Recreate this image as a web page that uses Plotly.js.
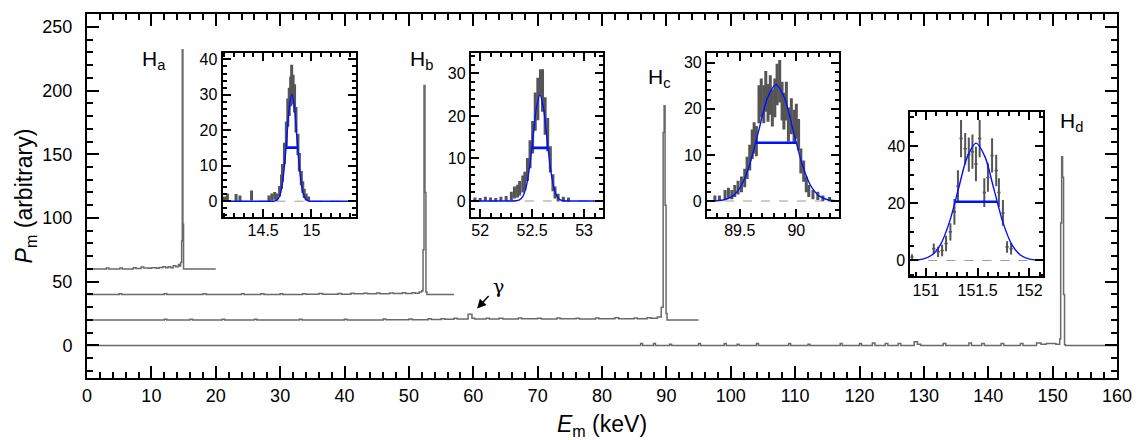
<!DOCTYPE html>
<html>
<head>
<meta charset="utf-8">
<script src="https://cdn.plot.ly/plotly-3.0.1.min.js"></script>
<style>
  html, body { margin: 0; padding: 0; background: #fff; }
  #chart { width: 1136px; height: 440px; }
</style>
</head>
<body>
<div id="chart"></div>
<script>
// main spectra (step histograms, offset baselines)
const haX = [0, 3.0, 3.4, 5.1, 5.5, 7.2, 7.6, 8.4, 8.8, 9.6, 10.0, 10.8, 11.2, 11.8, 12.2, 12.6, 13.0, 13.4, 13.8, 14.2, 14.4, 14.55, 14.7, 14.8, 14.9, 15.0, 20.0];
const haY = [60, 60.8, 60, 60.8, 60, 61, 60.3, 61.5, 60.8, 60.5, 61, 60.5, 61.2, 61.8, 61, 61.8, 61, 62.5, 61.8, 63.5, 62.3, 65, 82, 232, 95, 60, 60];

const hbX = [0, 5, 5.4, 12, 12.4, 18, 18.5, 24, 24.4, 27, 27.5, 30, 30.4, 33.5, 34, 36, 36.6, 39, 39.5, 41, 41.5, 43, 43.6, 45, 45.5, 47, 47.6, 49, 49.5, 50.5, 51, 51.6, 52.0, 52.2, 52.35, 52.5, 52.65, 52.8, 57];
const hbY = [40, 40.5, 40, 40.6, 40, 40.5, 40, 40.6, 40, 40.5, 40, 40.6, 40, 40.5, 40.2, 40.8, 40.2, 40.7, 40.2, 41, 40.5, 41, 40.5, 41.2, 40.6, 41.2, 40.8, 41.3, 40.8, 41.4, 41, 42, 43, 75, 204, 120, 42, 40, 40];

const hcX = [0, 12, 12.4, 16, 16.4, 21, 21.4, 26, 26.4, 33, 33.4, 40, 40.4, 46, 46.4, 50, 50.5, 53, 53.5, 55, 55.6, 57, 57.5, 59.2, 59.8, 60.2, 62, 62.5, 64, 64.6, 67, 67.5, 70, 70.6, 73, 73.5, 76, 76.5, 79, 79.5, 82, 82.6, 85, 85.5, 87, 87.6, 88.6, 89.2, 89.5, 89.65, 89.8, 89.95, 90.1, 95];
const hcY = [20, 20.6, 20, 20.5, 20, 20.6, 20, 20.5, 20, 20.6, 20, 20.6, 20, 20.7, 20.1, 20.8, 20.2, 21, 20.4, 21, 20.6, 21.3, 20.8, 24.5, 21.3, 20.8, 21.3, 20.7, 21.3, 20.7, 21.5, 20.9, 21.3, 20.8, 21.5, 20.9, 21.3, 20.8, 21.5, 21, 21.7, 21, 21.6, 21, 21.8, 21.4, 22.3, 30, 167, 188, 110, 25, 20, 20];

const hdX = [0, 86, 86.3, 88, 88.3, 90.5, 90.8, 95, 95.3, 99, 99.3, 101, 101.3, 104, 104.3, 109, 109.3, 112, 112.3, 117, 117.3, 120, 120.3, 122, 122.4, 124, 124.4, 126, 126.4, 128.5, 129, 129.5, 133, 133.4, 137, 137.4, 139, 139.4, 142, 142.4, 145, 145.4, 147.5, 148.2, 149, 150.5, 151.1, 151.25, 151.4, 151.55, 151.7, 151.85, 152, 160];
const hdY = [0, 1.5, 0, 1.5, 0, 1, 0, 1.5, 0, 1.5, 0, 1, 0, 1.5, 0, 1.5, 0, 1, 0, 1.5, 0, 1.5, 0, 2, 0, 1.5, 0, 1.5, 0, 3, 1, 0, 1.5, 0, 2, 0, 1.5, 0, 1.5, 0, 1.5, 0, 2, 1, 1.5, 1, 5, 96, 148, 132, 40, 0.5, 0, 0];

// inset data: points with errors
const aX = [14.10, 14.13, 14.22, 14.26, 14.38, 14.56, 14.59, 14.62, 14.64, 14.67, 14.69, 14.70, 14.72, 14.74, 14.755, 14.77, 14.785, 14.795, 14.81, 14.825, 14.84, 14.86, 14.875, 14.895, 14.91, 14.925, 14.945, 14.97];
const aY = [0.6, 1.2, 1.0, 0.8, 1.6, 0.8, 1.2, 1.5, 1.2, 2.8, 5.5, 8, 13.5, 19, 25, 28, 31, 34, 31.5, 29, 23, 16, 11, 6.5, 4, 2.2, 1.2, 0.6];
const aErr = [0.7, 1, 1, 0.8, 1.4, 0.8, 1, 1.1, 1, 1.5, 2, 2.5, 3, 3.5, 4, 4, 4.2, 4.5, 4.2, 4, 3.6, 3, 2.6, 2, 1.6, 1.3, 1, 0.7];

const bX = [51.95, 52.0, 52.05, 52.1, 52.15, 52.2, 52.25, 52.3, 52.33, 52.36, 52.38, 52.41, 52.43, 52.455, 52.48, 52.505, 52.53, 52.555, 52.58, 52.6, 52.625, 52.65, 52.675, 52.7, 52.72, 52.75, 52.8, 52.85];
const bY = [0.4, 0.3, 0.5, 0.4, 0.3, 0.5, 0.6, 1.2, 2, 2.3, 3, 4, 4.7, 7.4, 11, 15, 21, 24, 28, 26, 20, 15.6, 9.8, 4.3, 2, 0.8, 0.4, 0.3];
const bErr = [0.4, 0.4, 0.5, 0.4, 0.4, 0.5, 0.6, 1, 1.4, 1.5, 1.7, 2, 2.2, 2.7, 3.3, 3.8, 4.5, 5, 3, 5, 4.4, 3.9, 3.1, 2, 1.4, 0.9, 0.6, 0.5];

const cX = [89.28, 89.32, 89.37, 89.40, 89.43, 89.456, 89.485, 89.515, 89.544, 89.565, 89.588, 89.61, 89.627, 89.647, 89.67, 89.69, 89.712, 89.73, 89.75, 89.77, 89.788, 89.81, 89.83, 89.853, 89.874, 89.89, 89.912, 89.93, 89.956, 89.98, 90.0, 90.02, 90.04, 90.065, 90.088, 90.11, 90.147, 90.19, 90.235, 90.294];
const cY = [0.6, 0.6, 1.4, 1.8, 1.4, 2.2, 2.9, 3.6, 5, 7.2, 9.4, 12.3, 13.7, 13, 21, 22.4, 21, 23.8, 21.3, 23, 20.2, 22.4, 25.3, 26, 21.7, 19.5, 21.7, 16.6, 18.4, 16.2, 17.3, 14.4, 8.7, 6.5, 3.6, 2.2, 1.4, 1.1, 0.6, 0.4];
const cErr = [0.6, 0.6, 1, 1.1, 1, 1.3, 1.5, 1.7, 2, 2.4, 2.8, 3.2, 3.4, 3.3, 4.1, 4.2, 4.1, 4.4, 4.1, 4.3, 4, 4.2, 4.5, 4.6, 4.2, 4, 4.2, 3.7, 3.9, 3.6, 3.8, 3.4, 2.7, 2.3, 1.7, 1.3, 1, 0.9, 0.6, 0.5];

const dX = [150.865, 151.076, 151.118, 151.157, 151.195, 151.237, 151.276, 151.31, 151.34, 151.38, 151.415, 151.45, 151.484, 151.52, 151.565, 151.6, 151.64, 151.68, 151.706, 151.745, 151.785, 151.824];
const dY = [1.2, 4.1, 3, 3.5, 5.9, 10, 17, 26, 42.6, 39, 37, 38, 33.7, 42.6, 23.7, 29, 36.7, 31.4, 23.7, 16.6, 4.7, 4.1];
const dErr = [1, 1.8, 1.8, 2, 2.7, 3, 4.5, 5.5, 6.5, 5.5, 6, 6, 6, 6.5, 5, 5, 6, 5.5, 5, 4.5, 2, 2];

// gaussian fits
const fitAX = [14.08, 14.4, 14.617, 14.643, 14.669, 14.694, 14.72, 14.746, 14.771, 14.797, 14.823, 14.848, 14.874, 14.9, 14.925, 14.951, 14.977, 15.2, 15.46];
const fitAY = [0, 0, 0.07, 0.34, 1.33, 4.09, 9.8, 18.3, 26.65, 30.2, 26.65, 18.3, 9.8, 4.09, 1.33, 0.34, 0.07, 0, 0];
const fitBX = [51.91, 52.2, 52.345, 52.378, 52.411, 52.443, 52.476, 52.509, 52.542, 52.575, 52.608, 52.641, 52.674, 52.707, 52.739, 52.772, 52.805, 52.95, 53.18];
const fitBY = [0, 0, 0.06, 0.28, 1.1, 3.38, 8.12, 15.16, 22.06, 25, 22.06, 15.16, 8.12, 3.38, 1.1, 0.28, 0.06, 0, 0];
const fitCX = [89.21, 89.287, 89.363, 89.439, 89.515, 89.591, 89.668, 89.744, 89.82, 89.896, 89.972, 90.049, 90.125, 90.201, 90.277, 90.353, 90.38];
const fitCY = [0.01, 0.06, 0.28, 1.11, 3.42, 8.21, 15.34, 22.33, 25.3, 22.33, 15.34, 8.21, 3.42, 1.11, 0.28, 0.06, 0.03];
const fitDX = [150.85, 150.883, 150.969, 151.055, 151.141, 151.227, 151.314, 151.4, 151.486, 151.572, 151.658, 151.745, 151.831, 151.917, 152.003, 152.089, 152.13];
const fitDY = [0.05, 0.09, 0.46, 1.8, 5.55, 13.3, 24.9, 36.2, 41, 36.2, 24.9, 13.3, 5.55, 1.8, 0.46, 0.09, 0.04];

const fitCenter = [14.797, 52.575, 89.82, 151.486];
const fitFwhm = [0.121, 0.155, 0.359, 0.406];
const fitHalf = [15.1, 12.5, 12.65, 20.5];
const binHalf = [0.008, 0.009, 0.008, 0.016];
const barWidth = [3, 3, 3, 2];

const peakLabels = ["H<sub>a</sub>", "H<sub>b</sub>", "H<sub>c</sub>", "H<sub>d</sub>"];
const peakLabelX = [10.4, 51.9, 88.9, 152.9];
const peakLabelY = [224, 224, 210, 175];

const FONT = "Liberation Sans, Arial, Helvetica, sans-serif";
const GREY = "#6a6a6a";
const DATA_GREY = "#555555";
const BLUE = "#0010ff";

const spectrum = (x, y) => ({
  x: x, y: y, xaxis: "x", yaxis: "y",
  type: "scatter", mode: "lines",
  line: { shape: "hv", color: GREY, width: 1.5 },
  hoverinfo: "skip",
});

const insetPoints = (x, y, err, i) => ({
  x: x, y: y, xaxis: "x" + (i + 2), yaxis: "y" + (i + 2),
  type: "scatter", mode: "markers",
  marker: { color: DATA_GREY, size: 2 },
  error_y: { type: "data", array: err, visible: true, thickness: barWidth[i], width: 0, color: DATA_GREY },
  error_x: { type: "constant", value: binHalf[i], visible: true, thickness: 1.5, width: 0, color: DATA_GREY },
});

const fitLine = (x, y, i) => ({
  x: x, y: y, xaxis: "x" + (i + 2), yaxis: "y" + (i + 2),
  type: "scatter", mode: "lines",
  line: { color: BLUE, width: 1.4, shape: "spline", smoothing: 0.8 },
});

const fwhmLine = (i) => ({
  x: [fitCenter[i] - fitFwhm[i] / 2, fitCenter[i] + fitFwhm[i] / 2],
  y: [fitHalf[i], fitHalf[i]],
  xaxis: "x" + (i + 2), yaxis: "y" + (i + 2),
  type: "scatter", mode: "lines",
  line: { color: BLUE, width: 2.6 },
});

let series = [
  spectrum(haX, haY), spectrum(hbX, hbY), spectrum(hcX, hcY), spectrum(hdX, hdY),
];
const insetData = [[aX, aY, aErr], [bX, bY, bErr], [cX, cY, cErr], [dX, dY, dErr]];
const insetFits = [[fitAX, fitAY], [fitBX, fitBY], [fitCX, fitCY], [fitDX, fitDY]];
insetData.forEach((d, i) => series.push(insetPoints(d[0], d[1], d[2], i)));
insetFits.forEach((f, i) => series.push(fitLine(f[0], f[1], i)));
[0, 1, 2, 3].forEach((i) => series.push(fwhmLine(i)));

const frame = {
  showline: true, linecolor: "#000", linewidth: 2, mirror: "allticks",
  showgrid: false, zeroline: false, ticks: "inside", tickcolor: "#000",
  fixedrange: true,
};

const mainTicks = { tickwidth: 2, ticklen: 12, tickfont: { family: FONT, size: 18, color: "#000" } };
const insetTicks = { tickwidth: 2, ticklen: 8, tickfont: { family: FONT, size: 16, color: "#000" } };

// inset boxes (paper fractions of the plot area)
const insetXDomain = [[0.1316, 0.2611], [0.3726, 0.5008], [0.6019, 0.7304], [0.7994, 0.9279]];
const insetYDomain = [[0.4419, 0.8938], [0.4419, 0.8938], [0.4419, 0.8938], [0.2789, 0.7318]];
const insetXRange = [[14.08, 15.46], [51.91, 53.18], [89.21, 90.38], [150.85, 152.13]];
const insetYRange = [[-4.5, 41.9], [-3.8, 34.9], [-3.5, 32.2], [-5.6, 52]];
const insetYTick = [[10, 2], [10, 2], [10, 2], [20, 5]];

let layout = {
  width: 1136, height: 440,
  margin: { l: 87, r: 19, t: 14, b: 62 },
  paper_bgcolor: "#fff", plot_bgcolor: "rgba(0,0,0,0)",
  showlegend: false,
  font: { family: FONT, color: "#000" },
  xaxis: Object.assign({}, frame, mainTicks, {
    domain: [0, 1], anchor: "y", range: [0, 160], dtick: 10,
    ticklabelstandoff: 0,
    minor: { dtick: 2, ticks: "inside", ticklen: 6, tickwidth: 2, tickcolor: "#000" },
    title: { text: "<i>E</i><sub>m</sub> (keV)", font: { family: FONT, size: 23 }, standoff: 12 },
  }),
  yaxis: Object.assign({}, frame, mainTicks, {
    domain: [0, 1], anchor: "x", range: [-25.5, 260], dtick: 50,
    ticklabelstandoff: 9,
    minor: { dtick: 10, ticks: "inside", ticklen: 6, tickwidth: 2, tickcolor: "#000" },
    title: { text: "<i>P</i><sub>m</sub> (arbitrary)", font: { family: FONT, size: 23 }, standoff: 3 },
  }),
  shapes: [],
  annotations: [],
};

insetXDomain.forEach((dom, i) => {
  const n = i + 2;
  layout["xaxis" + n] = Object.assign({}, frame, insetTicks, {
    domain: dom, anchor: "y" + n, range: insetXRange[i], dtick: 0.5,
    ticklabelstandoff: -2,
    minor: { dtick: 0.1, ticks: "inside", ticklen: 4, tickwidth: 2, tickcolor: "#000" },
  });
  layout["yaxis" + n] = Object.assign({}, frame, insetTicks, {
    domain: insetYDomain[i], anchor: "x" + n, range: insetYRange[i], dtick: insetYTick[i][0],
    ticklabelstandoff: 0,
    minor: { dtick: insetYTick[i][1], ticks: "inside", ticklen: 4, tickwidth: 2, tickcolor: "#000" },
  });
  layout.shapes.push({
    type: "line", xref: "x" + n + " domain", yref: "y" + n,
    x0: 0, x1: 1, y0: 0, y1: 0, layer: "below",
    line: { color: "#9a9a9a", width: 1, dash: "dash" },
  });
});

peakLabels.forEach((t, i) => {
  layout.annotations.push({
    text: t, x: peakLabelX[i], y: peakLabelY[i], xref: "x", yref: "y",
    showarrow: false, font: { family: FONT, size: 21, color: "#000" },
  });
});

// gamma line marker
layout.annotations.push({
  text: "", x: 60.6, y: 29, ax: 62.6, ay: 40, xref: "x", yref: "y", axref: "x", ayref: "y",
  showarrow: true, arrowhead: 2, arrowsize: 1.2, arrowwidth: 1.5, arrowcolor: "#000",
});
layout.annotations.push({
  text: "γ", x: 63.9, y: 47, xref: "x", yref: "y", showarrow: false,
  font: { family: "DejaVu Serif, serif", size: 19, color: "#000" },
});

let config = { staticPlot: true, displayModeBar: false };

Plotly.newPlot("chart", series, layout, config);
</script>
</body>
</html>
